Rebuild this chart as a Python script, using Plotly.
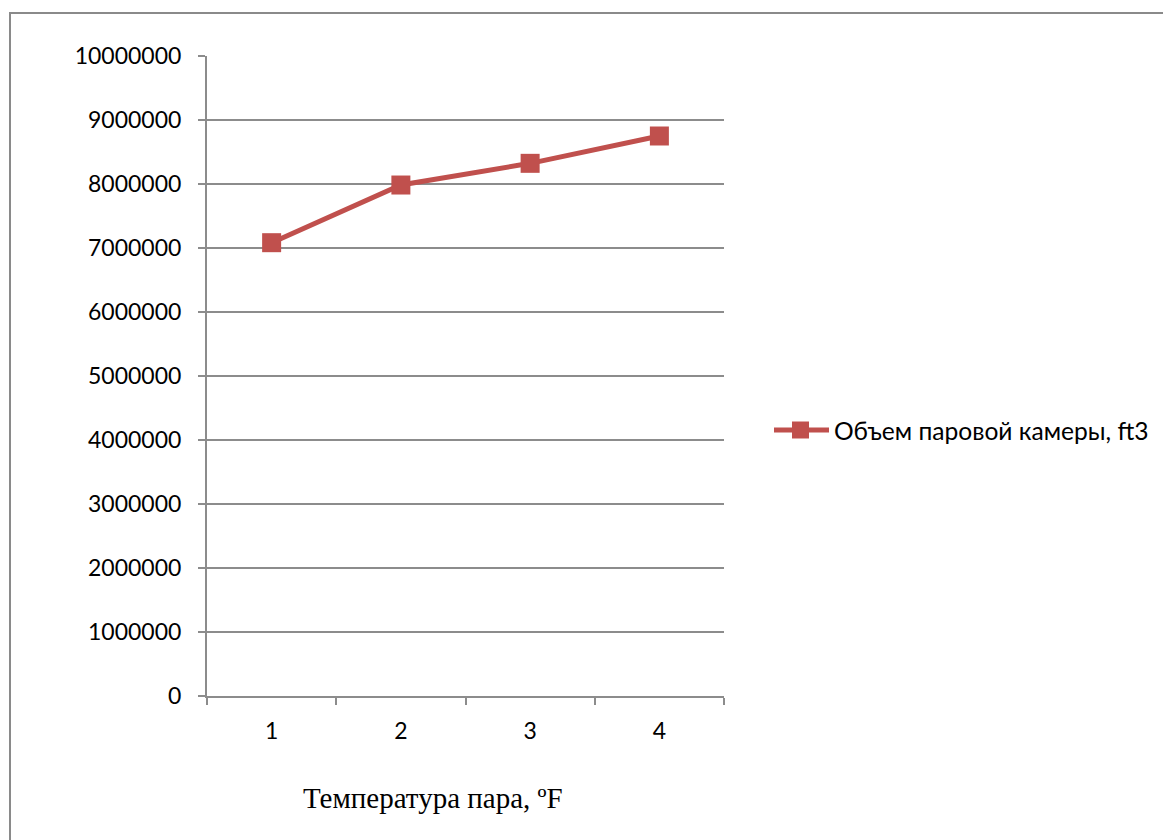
import plotly.graph_objects as go

# Series data
categories = ["1", "2", "3", "4"]
volume_ft3 = [7083000, 7984000, 8323000, 8750000]
series_name = "Объем паровой камеры, ft3"
x_title = "Температура пара, ºF"

LINE_RED = "#C0504D"
GRID = "#8C8C8C"

W, H = 1163, 840
L, R, T, B = 207, 724, 56, 696

fig = go.Figure()
fig.add_trace(go.Scatter(
    x=categories, y=volume_ft3, name=series_name,
    mode="lines+markers",
    line=dict(color=LINE_RED, width=5),
    marker=dict(symbol="square", size=19, color=LINE_RED),
    showlegend=False,
))

pw, ph = R - L, B - T

def px_x(px):
    return (px - L) / pw

def px_y(py):
    return (B - py) / ph

# Legend key drawn beside the plot: wide line with a square marker
leg_y = px_y(430)
shapes = [
    dict(type="rect", xref="paper", yref="paper",
         x0=px_x(10), x1=px_x(1200), y0=px_y(900), y1=px_y(13),
         line=dict(color="#8A8A8A", width=2), fillcolor="rgba(0,0,0,0)",
         layer="below"),
    dict(type="line", xref="paper", yref="paper",
         x0=px_x(774), x1=px_x(829), y0=leg_y, y1=leg_y,
         line=dict(color=LINE_RED, width=5)),
    dict(type="rect", xref="paper", yref="paper",
         x0=px_x(792), x1=px_x(809), y0=px_y(438.5), y1=px_y(421.5),
         line=dict(width=0), fillcolor=LINE_RED),
]

fig.update_layout(
    width=W, height=H,
    margin=dict(l=L, r=W - R, t=T, b=H - B, pad=0),
    paper_bgcolor="white", plot_bgcolor="white",
    font=dict(family="Lato, Carlito, sans-serif", size=23, color="black"),
    showlegend=False,
    xaxis=dict(
        type="category", range=[-0.5, 3.5],
        tickson="boundaries", ticks="outside", ticklen=7, tickwidth=2, tickcolor=GRID,
        showline=True, linecolor=GRID, linewidth=2,
        showgrid=False, zeroline=False, ticklabelstandoff=13,
    ),
    yaxis=dict(
        range=[0, 10000000], dtick=1000000, tickformat="d",
        ticks="outside", ticklen=7, tickwidth=2, tickcolor=GRID,
        showline=True, linecolor=GRID, linewidth=2,
        showgrid=True, gridcolor=GRID, gridwidth=2,
        zeroline=False, ticklabelstandoff=12,
    ),
    annotations=[
        dict(text=x_title, xref="paper", yref="paper",
             x=px_x(433), y=px_y(798), xanchor="center", yanchor="middle",
             showarrow=False,
             font=dict(family="Liberation Serif, Times New Roman, serif",
                       size=29, color="black")),
        dict(text=series_name, xref="paper", yref="paper",
             x=px_x(832), y=leg_y, xanchor="left", yanchor="middle",
             showarrow=False, font=dict(size=24.6, color="black")),
    ],
    shapes=shapes,
)

fig.write_html("out.html")
